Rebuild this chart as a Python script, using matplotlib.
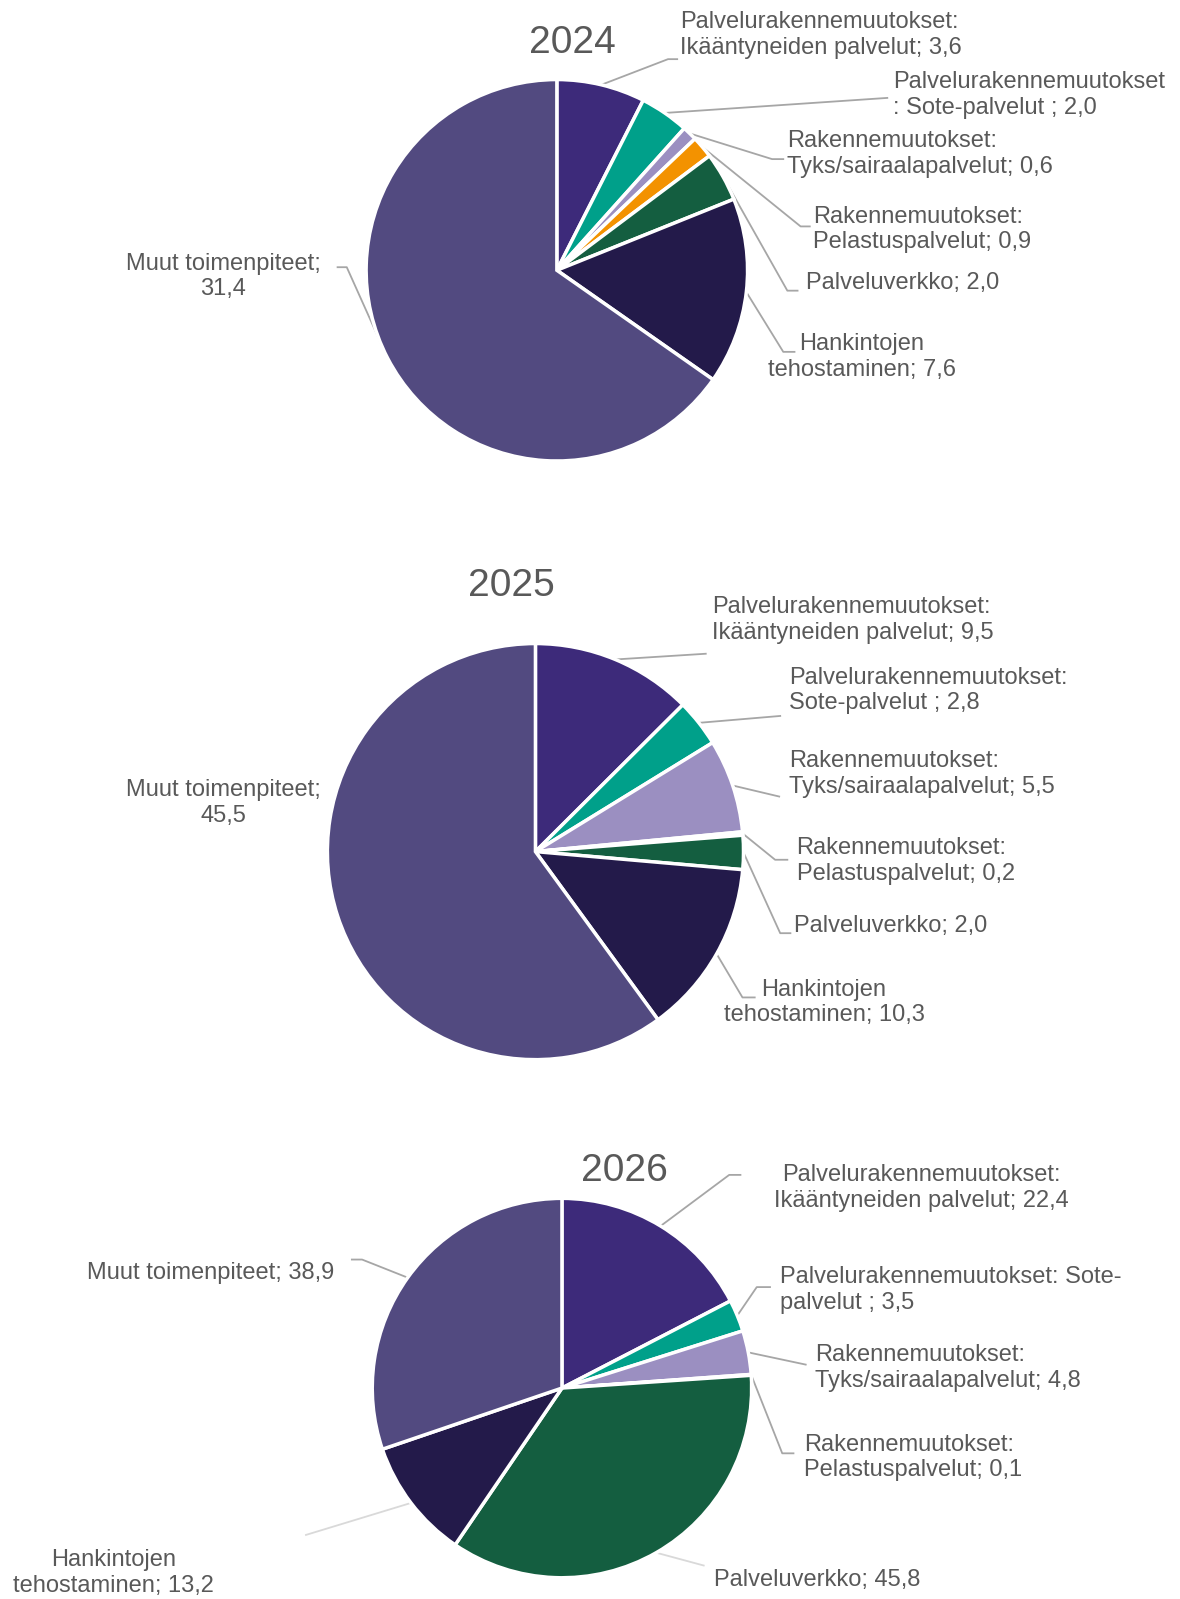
import numpy as np
import matplotlib
matplotlib.use("Agg")
import matplotlib.pyplot as plt

# ---------------- data ----------------
years = ["2024", "2025", "2026"]
categories = [
    "Palvelurakennemuutokset: Ikääntyneiden palvelut",
    "Palvelurakennemuutokset: Sote-palvelut",
    "Rakennemuutokset: Tyks/sairaalapalvelut",
    "Rakennemuutokset: Pelastuspalvelut",
    "Palveluverkko",
    "Hankintojen tehostaminen",
    "Muut toimenpiteet",
]
values_2024 = [3.6, 2.0, 0.6, 0.9, 2.0, 7.6, 31.4]
values_2025 = [9.5, 2.8, 5.5, 0.2, 2.0, 10.3, 45.5]
values_2026 = [22.4, 3.5, 4.8, 0.1, 45.8, 13.2, 38.9]

labels_2024 = [
    "Palvelurakennemuutokset:\nIkääntyneiden palvelut; {}",
    "Palvelurakennemuutokset\n: Sote-palvelut ; {}",
    "Rakennemuutokset:\nTyks/sairaalapalvelut; {}",
    "Rakennemuutokset:\nPelastuspalvelut; {}",
    "Palveluverkko; {}",
    "Hankintojen\ntehostaminen; {}",
    "Muut toimenpiteet;\n{}",
]
labels_2025 = [
    "Palvelurakennemuutokset:\nIkääntyneiden palvelut; {}",
    "Palvelurakennemuutokset:\nSote-palvelut ; {}",
    "Rakennemuutokset:\nTyks/sairaalapalvelut; {}",
    "Rakennemuutokset:\nPelastuspalvelut; {}",
    "Palveluverkko; {}",
    "Hankintojen\ntehostaminen; {}",
    "Muut toimenpiteet;\n{}",
]
labels_2026 = [
    "Palvelurakennemuutokset:\nIkääntyneiden palvelut; {}",
    "Palvelurakennemuutokset: Sote-\npalvelut ; {}",
    "Rakennemuutokset:\nTyks/sairaalapalvelut; {}",
    "Rakennemuutokset:\nPelastuspalvelut; {}",
    "Palveluverkko; {}",
    "Hankintojen\ntehostaminen; {}",
    "Muut toimenpiteet; {}",
]

colors = ["#3D2A7A", "#00A08A", "#9B8FC1", "#F39200", "#145E40", "#231A4A", "#524A80"]

# ---------------- layout (reference pixel coords, shrunk image) ----------------
W, H = 1180, 1599
S = 1180 / 1157.0
TXT = "#595959"
LINE = "#A6A6A6"
FAINT = "#D9D9D9"

def P(x, y):
    return (x * S, H - y * S)

layouts = [
    dict(center=(546, 265), r=187, title=(561, 42),
         labels=[  # (text x, text y center, ha, elbow, end, line colour)
             (667, 34, "left", (655, 58), (664, 58), LINE),
             (876, 93, "left", None, (870, 96), LINE),
             (772, 151, "left", (757, 156), (768, 156), LINE),
             (797, 225, "left", (785, 222), (794, 222), LINE),
             (790, 277, "left", (772, 285), (782, 285), LINE),
             (845, 350, "center", (768, 345), (779, 345), LINE),
             (219, 271, "center", (340, 262), (331, 262), LINE),
         ]),
    dict(center=(525, 835), r=204, title=(501, 575),
         labels=[
             (698, 608, "left", None, (692, 641), LINE),
             (774, 677, "left", None, (765, 702), LINE),
             (774, 759, "left", None, (764, 781), LINE),
             (781, 844, "left", (760, 843), (772, 843), LINE),
             (779, 908, "left", (765, 915), (775, 915), LINE),
             (808, 983, "center", (728, 978), (740, 978), LINE),
             (219, 787, "center", None, None, LINE),
         ]),
    dict(center=(551, 1361), r=186, title=(612, 1148),
         labels=[
             (903, 1165, "center", (715, 1152), (726, 1152), LINE),
             (765, 1265, "left", (742, 1262), (755, 1262), LINE),
             (799, 1341, "left", None, (790, 1338), LINE),
             (788, 1429, "left", (767, 1425), (778, 1425), LINE),
             (700, 1549, "left", None, (690, 1535), FAINT),
             (111, 1542, "center", None, (300, 1505), FAINT),
             (207, 1248, "center", (355, 1235), (345, 1235), LINE),
         ]),
]

all_values = [values_2024, values_2025, values_2026]
all_labels = [labels_2024, labels_2025, labels_2026]

plt.rcParams["font.family"] = ["Liberation Sans", "DejaVu Sans"]

fig = plt.figure(figsize=(W / 100, H / 100), dpi=100)
ax = fig.add_axes([0, 0, 1, 1])

def fmt(v):
    return ("%.1f" % v).replace(".", ",")

for year, vals, labs, lay in zip(years, all_values, all_labels, layouts):
    cx, cy = P(*lay["center"])
    r = lay["r"] * S
    wedges, _ = ax.pie(vals, colors=colors, startangle=90, counterclock=False,
                       center=(cx, cy), radius=r,
                       wedgeprops=dict(edgecolor="white", linewidth=2.5))
    tx, ty = P(*lay["title"])
    ax.text(tx, ty, year, ha="center", va="center", fontsize=28, color=TXT)
    for w, v, lab, (lx, ly, ha, elbow, end, lc) in zip(wedges, vals, labs, lay["labels"]):
        x, y = P(lx, ly)
        ax.text(x, y, lab.format(fmt(v)), ha=ha, va="center", fontsize=17,
                color=TXT, linespacing=1.22)
        if end is None:
            continue
        ang = np.deg2rad((w.theta1 + w.theta2) / 2)
        sx, sy = cx + r * np.cos(ang), cy + r * np.sin(ang)
        pts = [(sx, sy)]
        if elbow is not None:
            pts.append(P(*elbow))
        pts.append(P(*end))
        xs, ys = zip(*pts)
        ax.plot(xs, ys, color=lc, lw=1.3, zorder=0.5)

ax.set_xlim(0, W)
ax.set_ylim(0, H)
ax.set_aspect("equal")
ax.axis("off")
fig.savefig("out.png", dpi=100, facecolor="white")
